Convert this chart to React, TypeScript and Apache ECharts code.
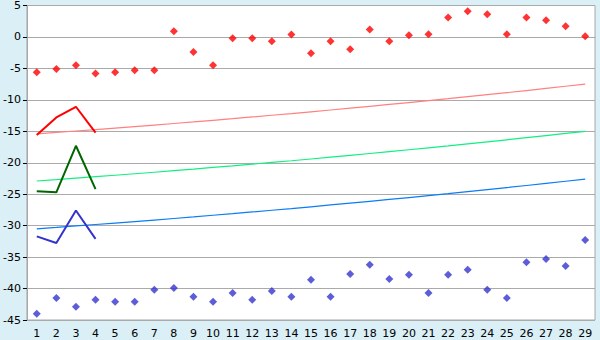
import React, { useEffect, useRef } from "react";
import * as echarts from "echarts";

const categories = ["1","2","3","4","5","6","7","8","9","10","11","12","13","14","15","16","17","18","19","20","21","22","23","24","25","26","27","28","29"];

const redPoints = [-5.6,-5.1,-4.5,-5.8,-5.6,-5.3,-5.3,0.9,-2.4,-4.5,-0.2,-0.2,-0.7,0.4,-2.6,-0.7,-1.95,1.2,-0.7,0.27,0.43,3.1,4.1,3.6,0.43,3.1,2.65,1.7,0.1];
const bluePoints = [-44.0,-41.5,-42.9,-41.8,-42.1,-42.1,-40.2,-39.9,-41.3,-42.1,-40.7,-41.8,-40.4,-41.3,-38.6,-41.3,-37.7,-36.2,-38.5,-37.8,-40.7,-37.8,-37.0,-40.2,-41.5,-35.8,-35.3,-36.4,-32.3];

const redTrend = [-15.40,-15.18,-14.95,-14.72,-14.49,-14.25,-14.01,-13.76,-13.51,-13.25,-12.99,-12.72,-12.45,-12.18,-11.90,-11.61,-11.32,-11.03,-10.73,-10.43,-10.12,-9.81,-9.49,-9.17,-8.85,-8.52,-8.18,-7.84,-7.50];
const greenTrend = [-22.90,-22.68,-22.45,-22.22,-21.99,-21.75,-21.51,-21.26,-21.01,-20.75,-20.49,-20.22,-19.95,-19.68,-19.40,-19.11,-18.82,-18.53,-18.23,-17.93,-17.62,-17.31,-16.99,-16.67,-16.35,-16.02,-15.68,-15.34,-15.00];
const blueTrend = [-30.50,-30.28,-30.05,-29.82,-29.59,-29.35,-29.11,-28.86,-28.61,-28.35,-28.09,-27.82,-27.55,-27.28,-27.00,-26.71,-26.42,-26.13,-25.83,-25.53,-25.22,-24.91,-24.59,-24.27,-23.95,-23.62,-23.28,-22.94,-22.60];

const redThick = [-15.6,-12.8,-11.1,-15.2];
const greenThick = [-24.55,-24.7,-17.3,-24.2];
const blueThick = [-31.7,-32.75,-27.6,-32.1];

const yTicks = { min: -45, max: 5, interval: 5 };

export default function App() {
  const ref = useRef<HTMLDivElement>(null);
  useEffect(() => {
    if (!ref.current) return;
    const chart = echarts.init(ref.current, null, { renderer: "svg" });
    const font = { fontFamily: "DejaVu Sans", fontSize: 11, color: "#000" };
    const thin = (data: number[], color: string) => ({
      type: "line", data, symbol: "none", silent: true,
      lineStyle: { color, width: 1.2 }, z: 2,
    });
    const thick = (data: number[], color: string) => ({
      type: "line", data, symbol: "none", silent: true,
      lineStyle: { color, width: 2 }, z: 3,
    });
    chart.setOption({
      animation: false,
      backgroundColor: "#DAEFF6",
      grid: {
        left: 26, right: 5, top: 5, bottom: 20,
        show: true, backgroundColor: "#FFFFFF", borderColor: "#A8A8A8", borderWidth: 1,
      },
      xAxis: {
        type: "category",
        data: categories,
        boundaryGap: true,
        axisLine: { lineStyle: { color: "#A8A8A8" } },
        axisTick: { alignWithLabel: true, length: 6, lineStyle: { color: "#000" } },
        axisLabel: { ...font, margin: 8, interval: 0 },
        splitLine: { show: false },
      },
      yAxis: {
        type: "value",
        min: yTicks.min, max: yTicks.max, interval: yTicks.interval,
        axisLine: { show: true, lineStyle: { color: "#A8A8A8" } },
        axisTick: { show: true, length: 4, lineStyle: { color: "#000" } },
        axisLabel: { ...font, margin: 6 },
        splitLine: { lineStyle: { color: "#AAAAAA", width: 1 } },
      },
      series: [
        thin(redTrend, "#FF8080"),
        thin(greenTrend, "#10F080"),
        thin(blueTrend, "#0A7CF5"),
        thick(redThick, "#FF0000"),
        thick(greenThick, "#006600"),
        thick(blueThick, "#3434CC"),
        { type: "scatter", data: redPoints, symbol: "diamond", symbolSize: 8, itemStyle: { color: "#FF0000" }, z: 4 },
        { type: "scatter", data: bluePoints, symbol: "diamond", symbolSize: 8, itemStyle: { color: "#3434CF" }, z: 4 },
      ],
    });
    return () => chart.dispose();
  }, []);
  return <div ref={ref} style={{ position: "fixed", left: 0, top: 0, width: 600, height: 340 }} />;
}
